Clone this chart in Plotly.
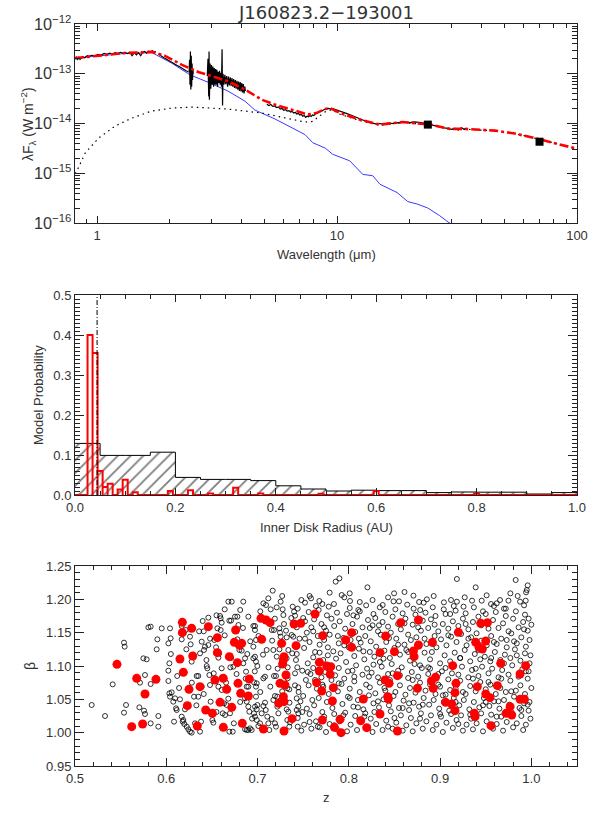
import plotly.graph_objects as go

TITLE = "J160823.2\u2212193001"

# ---------------- Panel 1: SED ----------------
star_wl = [0.81, 1.0, 1.15, 1.3, 1.5, 1.69, 2.05, 2.44, 2.96, 3.51, 4.14, 4.55, 5.52, 6.5, 7.35, 7.93, 8.93,
           9.6, 11.3, 12.8, 14.1, 15.1, 17.8, 19.7, 21.6, 23.9, 26.8, 29.0, 30.0]
star_f = [2.06e-13, 2.3e-13, 2.45e-13, 2.55e-13, 2.6e-13, 2.67e-13, 1.63e-13, 9.5e-14, 6.5e-14, 4.5e-14, 2.8e-14,
          1.86e-14, 1.23e-14, 8.3e-15, 6.0e-15, 4.1e-15, 3.2e-15, 2.4e-15, 1.78e-15, 9.5e-16, 8.9e-16, 6.0e-16,
          4.1e-16, 2.7e-16, 2.4e-16, 2.0e-16, 1.4e-16, 1.05e-16, 0.95e-16]

model_wl = [0.81, 1.0, 1.3, 1.7, 1.92, 2.26, 2.66, 3.0, 3.51, 4.14, 4.87, 5.5, 6.7, 7.57, 8.2, 8.9, 9.35, 10.3,
            12.4, 15.1, 18.8, 24.5, 29.5, 34.0, 45.5, 55.0, 66.5, 81.0, 100.0]
model_f = [2.06e-13, 2.3e-13, 2.6e-13, 2.75e-13, 2.29e-13, 1.51e-13, 1.07e-13, 9.0e-14, 7.1e-14, 4.8e-14, 3.0e-14,
           2.4e-14, 1.78e-14, 1.51e-14, 1.62e-14, 1.95e-14, 2.04e-14, 1.62e-14, 1.2e-14, 9.5e-15, 1.07e-14,
           9.5e-15, 7.8e-15, 7.8e-15, 7.2e-15, 6.3e-15, 5.1e-15, 4.0e-15, 3.1e-15]

disk_wl = [0.81, 0.825, 0.894, 1.016, 1.19, 1.4, 1.69, 2.05, 2.5, 3.51, 4.87, 6.07, 7.35, 7.9, 8.3, 8.9, 9.5,
           10.3, 12.4, 15.1, 18.8, 24.5, 29.5, 34.0, 45.5, 55.0, 66.5, 81.0, 100.0]
disk_f = [0.98e-15, 1.12e-15, 2.57e-15, 5.1e-15, 8.9e-15, 1.29e-14, 1.78e-14, 2.04e-14, 2.14e-14, 1.95e-14,
          1.62e-14, 1.29e-14, 1.07e-14, 1.1e-14, 1.3e-14, 1.7e-14, 1.9e-14, 1.53e-14, 1.15e-14, 9.2e-15,
          1.05e-14, 9.3e-15, 7.7e-15, 7.7e-15, 7.1e-15, 6.3e-15, 5.1e-15, 4.0e-15, 3.1e-15]

nir_wl = [0.81, 0.82, 0.83, 0.84, 0.85, 0.86, 0.87, 0.89, 0.91, 0.93, 0.95, 0.98, 1.01, 1.04, 1.07, 1.10, 1.13,
          1.16, 1.19, 1.22, 1.25, 1.28, 1.31, 1.34, 1.37, 1.40, 1.43, 1.46, 1.49, 1.52, 1.55, 1.58, 1.61, 1.64,
          1.67, 1.70, 1.73, 1.76]
nir_f = [2.0e-13, 2.15e-13, 1.9e-13, 2.2e-13, 1.95e-13, 2.1e-13, 2.2e-13, 2.1e-13, 2.3e-13, 2.25e-13, 2.35e-13,
         2.3e-13, 2.45e-13, 2.35e-13, 2.55e-13, 2.45e-13, 2.6e-13, 2.5e-13, 2.65e-13, 2.55e-13, 2.7e-13, 2.6e-13,
         2.7e-13, 2.55e-13, 2.7e-13, 2.3e-13, 2.65e-13, 2.4e-13, 2.65e-13, 2.3e-13, 2.7e-13, 2.8e-13, 2.6e-13,
         2.85e-13, 2.75e-13, 2.9e-13, 2.75e-13, 2.8e-13]

k_wl = [1.80, 1.85, 1.90, 1.95, 2.0, 2.05, 2.1, 2.15, 2.2, 2.25, 2.3, 2.35, 2.40]
k_f = [2.5e-13, 2.25e-13, 2.1e-13, 1.95e-13, 1.8e-13, 1.7e-13, 1.6e-13, 1.48e-13, 1.4e-13, 1.3e-13, 1.22e-13,
       1.15e-13, 1.1e-13]

spike_wl = [2.42, 2.43, 2.44, 2.45, 2.46, 2.47, 2.48, 2.49, 2.50, 2.51, 2.52]
spike_f = [1.05e-13, 1.9e-13, 0.6e-13, 2.8e-13, 0.48e-13, 2.3e-13, 0.55e-13, 1.6e-13, 0.75e-13, 1.2e-13, 1.0e-13]

l_wl = [2.88, 2.90, 2.92, 2.93, 2.94, 2.96, 2.98, 3.00, 3.02, 3.04, 3.06, 3.08, 3.10, 3.12, 3.14, 3.16, 3.18,
        3.20, 3.22, 3.24, 3.26, 3.28, 3.30, 3.32, 3.335, 3.35, 3.38, 3.41, 3.44, 3.47, 3.50, 3.53, 3.56, 3.59,
        3.62, 3.65, 3.68, 3.71, 3.74, 3.77, 3.80, 3.83, 3.86, 3.89, 3.92, 3.95, 3.98, 4.01, 4.04, 4.07, 4.10,
        4.13, 4.15]
l_f = [0.9e-13, 2.0e-13, 0.35e-13, 2.8e-13, 0.3e-13, 1.6e-13, 0.5e-13, 1.5e-13, 0.6e-13, 1.4e-13, 0.55e-13,
       1.3e-13, 0.6e-13, 1.25e-13, 0.6e-13, 1.2e-13, 0.55e-13, 1.1e-13, 0.65e-13, 1.15e-13, 0.6e-13, 1.05e-13,
       0.55e-13, 3.1e-13, 0.23e-13, 1.0e-13, 0.6e-13, 0.95e-13, 0.62e-13, 0.9e-13, 0.55e-13, 0.88e-13, 0.58e-13,
       0.85e-13, 0.57e-13, 0.82e-13, 0.55e-13, 0.78e-13, 0.52e-13, 0.75e-13, 0.5e-13, 0.72e-13, 0.48e-13,
       0.7e-13, 0.45e-13, 0.68e-13, 0.44e-13, 0.65e-13, 0.42e-13, 0.62e-13, 0.4e-13, 0.55e-13, 0.45e-13]

irs_wl = [5.1, 5.2, 5.3, 5.4, 5.5, 5.6, 5.7, 5.8, 5.9, 6.0, 6.1, 6.2, 6.3, 6.4, 6.5, 6.6, 6.7, 6.8, 6.9, 7.0,
          7.1, 7.2, 7.3, 7.4, 7.5, 7.6, 7.7, 7.8, 7.9, 8.0, 8.2, 8.4, 8.6, 8.8, 9.0, 9.2, 9.4, 9.6, 9.8, 10.0,
          10.3, 10.6, 11.0, 11.4, 11.8, 12.2, 12.6, 13.0, 13.5, 14.0, 14.5, 15.0, 15.5, 16.0, 16.5, 17.0, 17.5,
          18.0, 19.0, 20.0, 21.0, 22.0, 23.0, 24.0, 25.0, 26.0, 27.0, 28.0, 29.0, 30.0, 31.0, 32.0, 33.0, 34.0, 34.5]
irs_f = [2.45e-14, 2.3e-14, 2.4e-14, 2.2e-14, 2.25e-14, 2.1e-14, 2.15e-14, 1.95e-14, 2.0e-14, 1.85e-14, 1.9e-14,
         1.78e-14, 1.82e-14, 1.7e-14, 1.75e-14, 1.62e-14, 1.68e-14, 1.55e-14, 1.6e-14, 1.48e-14, 1.52e-14,
         1.4e-14, 1.45e-14, 1.33e-14, 1.4e-14, 1.36e-14, 1.44e-14, 1.38e-14, 1.48e-14, 1.45e-14, 1.6e-14,
         1.7e-14, 1.82e-14, 1.9e-14, 1.98e-14, 2.02e-14, 1.96e-14, 2.0e-14, 1.92e-14, 1.88e-14, 1.78e-14,
         1.7e-14, 1.58e-14, 1.48e-14, 1.38e-14, 1.28e-14, 1.2e-14, 1.12e-14, 1.06e-14, 1.02e-14, 0.98e-14,
         1.0e-14, 0.97e-14, 1.0e-14, 1.02e-14, 1.0e-14, 1.04e-14, 1.03e-14, 1.06e-14, 1.04e-14, 1.08e-14,
         1.06e-14, 1.0e-14, 0.98e-14, 0.93e-14, 0.88e-14, 0.85e-14, 0.82e-14, 0.8e-14, 0.76e-14, 0.8e-14,
         0.74e-14, 0.82e-14, 0.76e-14, 0.8e-14]

phot_wl = [23.9, 69.8]
phot_f = [9.5e-15, 4.3e-15]

# ---------------- Panel 2: inner radius histograms ----------------
grid_bin_lo = [0.00, 0.05, 0.10, 0.15, 0.20, 0.25, 0.30, 0.35, 0.40, 0.45, 0.50, 0.55, 0.60, 0.65, 0.70, 0.75,
               0.80, 0.85, 0.90, 0.95]
grid_prob = [0.129, 0.099, 0.099, 0.107, 0.044, 0.039, 0.039, 0.036, 0.023, 0.015, 0.010, 0.012, 0.011, 0.011,
             0.006, 0.0075, 0.007, 0.007, 0.0025, 0.006]
GRID_W = 0.05

fit_bin_lo = [0.025, 0.035, 0.045, 0.055, 0.065, 0.085, 0.095, 0.115, 0.185, 0.225, 0.265, 0.315, 0.365, 0.485,
              0.595, 0.795]
fit_prob = [0.400, 0.355, 0.060, 0.020, 0.028, 0.014, 0.038, 0.007, 0.010, 0.012, 0.004, 0.018, 0.004, 0.003,
            0.010, 0.003]
FIT_W = 0.01
best_rin = 0.044

# ---------------- Panel 3: z vs beta ----------------
models_left = [
    (0.5183, 1.0415), (0.5329, 1.025), (0.5413, 1.0725), (0.5537, 1.135), (0.5544, 1.129), (0.5559, 1.0415),
    (0.5537, 1.030), (0.5705, 1.038), (0.5749, 1.1115), (0.5785, 1.110), (0.5767, 1.0865), (0.5756, 1.033),
    (0.5767, 1.028), (0.5712, 1.075), (0.5829, 1.014), (0.5804, 1.158), (0.5829, 1.159), (0.5829, 1.073),
    (0.5902, 1.140), (0.5895, 1.125), (0.5913, 1.025), (0.5913, 1.009), (0.5950, 1.1565), (0.6041, 1.1565),
    (0.6048, 1.1415), (0.6023, 1.134), (0.6034, 1.104), (0.6023, 1.093), (0.6023, 1.0775), (0.6034, 1.059),
    (0.6041, 1.054), (0.6059, 1.0605), (0.6077, 1.0465), (0.6096, 1.0515), (0.6107, 1.0365), (0.6114, 1.034),
    (0.6085, 1.0165), (0.6169, 1.160), (0.6169, 1.140), (0.6150, 1.050), (0.6169, 1.024), (0.6180, 1.0165),
    (0.6187, 1.019), (0.6198, 1.013), (0.6205, 1.035), (0.6213, 1.154), (0.6224, 1.009), (0.6242, 1.005),
    (0.6260, 1.0015), (0.6278, 1.000), (0.6267, 1.1325), (0.6278, 1.1065), (0.6304, 1.054), (0.6315, 1.014),
    (0.6333, 1.085), (0.6351, 1.085), (0.6351, 1.054), (0.6370, 1.0015), (0.6381, 1.0165), (0.6388, 1.1365),
    (0.6370, 1.119), (0.6388, 1.069), (0.6399, 1.1675), (0.6413, 1.124), (0.6424, 1.129), (0.6443, 1.100),
    (0.6450, 1.0965), (0.6461, 1.1725), (0.6461, 1.1315), (0.6472, 1.0865), (0.6479, 1.0715), (0.6486, 1.0465),
    (0.6505, 1.019), (0.6516, 1.015), (0.6527, 1.139), (0.6545, 1.128), (0.6560, 1.1565), (0.6571, 1.069),
    (0.6571, 1.1125), (0.6589, 1.175), (0.6596, 1.1715), (0.6607, 1.165), (0.6596, 1.154), (0.6607, 1.0965),
    (0.6607, 1.064), (0.6618, 1.029), (0.6633, 1.044), (0.6644, 1.0265), (0.6655, 1.075), (0.6662, 1.0415),
    (0.6680, 1.1965), (0.6717, 1.1965), (0.6691, 1.168), (0.6709, 1.168), (0.6698, 1.029), (0.6691, 1.0015),
    (0.6728, 1.0015), (0.6702, 1.098), (0.6735, 1.099), (0.6753, 1.174), (0.6779, 1.174), (0.6790, 1.1615),
    (0.6779, 1.140), (0.6801, 1.124), (0.6826, 1.123), (0.6844, 1.1965), (0.6808, 1.129), (0.6844, 1.104),
    (0.6863, 1.1115), (0.6888, 1.118), (0.6874, 1.0915), (0.6881, 1.069), (0.6899, 1.069), (0.6863, 1.0515),
    (0.6881, 1.0465), (0.6899, 1.039), (0.6910, 1.0315), (0.6863, 1.005), (0.6881, 1.004), (0.6899, 1.004),
    (0.6917, 1.0065), (0.6936, 1.004), (0.6899, 1.174), (0.6954, 1.160), (0.6972, 1.160), (0.6972, 1.154),
    (0.6983, 1.139), (0.6954, 1.129), (0.6972, 1.114), (0.6954, 1.1115), (0.6983, 1.1065), (0.6998, 1.100),
    (0.6961, 1.0755), (0.6983, 1.069), (0.6991, 1.074), (0.6983, 1.054), (0.6998, 1.0415), (0.6972, 1.039),
    (0.6991, 1.035), (0.6961, 1.029), (0.6972, 1.024), (0.6991, 1.019), (0.7009, 1.010), (0.7027, 1.014),
    (0.7045, 1.029), (0.7064, 1.040), (0.7082, 1.045), (0.7064, 1.0815), (0.7082, 1.084), (0.7064, 1.194),
    (0.7093, 1.1915), (0.7118, 1.2015), (0.7166, 1.213), (0.7144, 1.185), (0.7173, 1.124), (0.7155, 1.154),
    (0.7180, 1.154), (0.7100, 1.124), (0.7107, 1.024), (0.7118, 1.014), (0.7129, 1.004), (0.7155, 1.0205),
    (0.7173, 1.049), (0.7191, 1.055), (0.7180, 1.085), (0.7202, 1.085), (0.7210, 1.114), (0.7191, 1.014),
    (0.7202, 1.009), (0.7217, 1.054), (0.7228, 1.029), (0.7217, 1.039), (0.7239, 1.1565), (0.7246, 1.150),
    (0.7253, 1.144), (0.7253, 1.1965), (0.7210, 1.188), (0.7275, 1.185), (0.7283, 1.1765), (0.7312, 1.153),
    (0.7319, 1.143), (0.7337, 1.124), (0.7319, 1.1115), (0.7330, 1.0815), (0.7326, 1.0665), (0.7348, 1.065),
    (0.7319, 1.035), (0.7337, 1.0315), (0.7326, 1.019), (0.7356, 1.0155), (0.7348, 1.009), (0.7374, 1.1465),
    (0.7392, 1.144), (0.7385, 1.189), (0.7400, 1.1815), (0.7411, 1.1755), (0.7411, 1.089), (0.7421, 1.109),
    (0.7436, 1.098), (0.7429, 1.034), (0.7447, 1.029), (0.7440, 1.009), (0.7447, 1.039), (0.7429, 1.0515),
    (0.7447, 1.068),
    (0.605, 1.118), (0.612, 1.085), (0.614, 1.067), (0.622, 1.125), (0.628, 1.075), (0.633, 1.041),
    (0.636, 1.152), (0.641, 1.058), (0.644, 1.109), (0.648, 1.141), (0.652, 1.089), (0.655, 1.031),
    (0.658, 1.119), (0.661, 1.083), (0.664, 1.146), (0.668, 1.051), (0.671, 1.112), (0.674, 1.014),
    (0.677, 1.088), (0.681, 1.046), (0.684, 1.157), (0.687, 1.081), (0.692, 1.137), (0.694, 1.021),
    (0.697, 1.092), (0.701, 1.145), (0.703, 1.061), (0.706, 1.117), (0.709, 1.034), (0.712, 1.098),
    (0.714, 1.069), (0.716, 1.138), (0.719, 1.171), (0.722, 1.096), (0.724, 1.125), (0.727, 1.062),
    (0.729, 1.163), (0.733, 1.098), (0.735, 1.045), (0.738, 1.119), (0.741, 1.071), (0.743, 1.158),
    (0.737, 1.172), (0.727, 1.205), (0.703, 1.182), (0.681, 1.184), (0.664, 1.185), (0.655, 1.176),
    (0.641, 1.152), (0.626, 1.144),
]

models_top = [
    (0.7856, 1.2265), (0.7897, 1.2315), (0.8204, 1.218), (0.9184, 1.2305), (0.9390, 1.218), (0.9828, 1.229),
    (0.9942, 1.2105), (0.7922, 1.2065), (0.7586, 1.2015), (0.7677, 1.1975), (0.7520, 1.195), (0.8013, 1.1975),
    (0.8104, 1.184), (0.7837, 1.193), (0.8708, 1.2055), (0.8496, 1.209), (0.8371, 1.1915), (0.8855, 1.200),
    (0.8782, 1.184), (0.9042, 1.1955), (0.9184, 1.1965), (0.9257, 1.189), (0.9456, 1.198), (0.9558, 1.193),
    (0.9657, 1.199), (0.9749, 1.198), (0.9876, 1.1965), (0.9938, 1.198),
    (0.748, 1.199), (0.757, 1.205), (0.771, 1.193), (0.779, 1.210), (0.801, 1.209), (0.812, 1.196),
    (0.826, 1.199), (0.843, 1.203), (0.855, 1.197), (0.861, 1.211), (0.877, 1.196), (0.893, 1.205),
    (0.912, 1.199), (0.927, 1.203), (0.935, 1.198), (0.951, 1.206), (0.962, 1.194), (0.977, 1.209),
    (0.996, 1.221), (0.972, 1.186),
]

models_dense = [
    (0.748, 1.003), (0.744, 1.022), (0.747, 1.047), (0.745, 1.061), (0.749, 1.093), (0.743, 1.118), (0.746, 1.141),
    (0.750, 1.172), (0.744, 1.186), (0.751, 1.012), (0.754, 1.036), (0.750, 1.055), (0.753, 1.079), (0.755, 1.104),
    (0.751, 1.127), (0.754, 1.150), (0.752, 1.167), (0.759, 1.006), (0.757, 1.028), (0.760, 1.049), (0.756, 1.071),
    (0.758, 1.088), (0.761, 1.113), (0.757, 1.136), (0.759, 1.158), (0.756, 1.181), (0.764, 1.017), (0.762, 1.041),
    (0.765, 1.066), (0.761, 1.097), (0.763, 1.121), (0.766, 1.145), (0.762, 1.170), (0.764, 1.190), (0.768, 1.008),
    (0.771, 1.031), (0.767, 1.052), (0.770, 1.083), (0.772, 1.109), (0.768, 1.132), (0.770, 1.163), (0.767, 1.184),
    (0.775, 1.001), (0.773, 1.024), (0.776, 1.046), (0.772, 1.069), (0.774, 1.091), (0.777, 1.116), (0.773, 1.139),
    (0.775, 1.153), (0.776, 1.176), (0.779, 1.013), (0.782, 1.037), (0.778, 1.058), (0.781, 1.079), (0.783, 1.122),
    (0.779, 1.147), (0.781, 1.171), (0.778, 1.189), (0.787, 1.005), (0.784, 1.028), (0.788, 1.062), (0.785, 1.086),
    (0.786, 1.111), (0.789, 1.134), (0.784, 1.160), (0.787, 1.180), (0.790, 1.017), (0.793, 1.043), (0.792, 1.073),
    (0.789, 1.097), (0.791, 1.119), (0.794, 1.142), (0.790, 1.167), (0.798, 1.002), (0.796, 1.030), (0.799, 1.054),
    (0.795, 1.081), (0.797, 1.106), (0.800, 1.128), (0.796, 1.156), (0.798, 1.178), (0.795, 1.203), (0.802, 1.012),
    (0.805, 1.039), (0.801, 1.066), (0.804, 1.093), (0.806, 1.115), (0.802, 1.139), (0.804, 1.163), (0.801, 1.187),
    (0.809, 1.004), (0.807, 1.025), (0.810, 1.049), (0.806, 1.077), (0.808, 1.101), (0.811, 1.126), (0.807, 1.151),
    (0.809, 1.174), (0.813, 1.016), (0.816, 1.035), (0.812, 1.061), (0.815, 1.087), (0.817, 1.110), (0.813, 1.135),
    (0.815, 1.158), (0.812, 1.182), (0.821, 1.008), (0.818, 1.029), (0.822, 1.056), (0.819, 1.072), (0.820, 1.096),
    (0.823, 1.121), (0.818, 1.145), (0.821, 1.169), (0.819, 1.191), (0.826, 1.001), (0.824, 1.021), (0.827, 1.044),
    (0.823, 1.068), (0.825, 1.090), (0.828, 1.114), (0.824, 1.137), (0.826, 1.161), (0.827, 1.178), (0.830, 1.013),
    (0.833, 1.038), (0.829, 1.059), (0.832, 1.083), (0.834, 1.106), (0.830, 1.129), (0.832, 1.152), (0.829, 1.172),
    (0.837, 1.004), (0.835, 1.027), (0.838, 1.050), (0.834, 1.075), (0.836, 1.099), (0.839, 1.123), (0.835, 1.147),
    (0.837, 1.166), (0.834, 1.188), (0.841, 1.018), (0.844, 1.041), (0.840, 1.063), (0.843, 1.088), (0.845, 1.112),
    (0.841, 1.136), (0.843, 1.159), (0.840, 1.181), (0.848, 1.006), (0.846, 1.032), (0.849, 1.055), (0.845, 1.079),
    (0.847, 1.103), (0.850, 1.127), (0.846, 1.150), (0.848, 1.174), (0.849, 1.197), (0.852, 1.015), (0.855, 1.037),
    (0.851, 1.061), (0.854, 1.093), (0.856, 1.117), (0.852, 1.141), (0.854, 1.163), (0.851, 1.185), (0.859, 1.003),
    (0.857, 1.026), (0.860, 1.048), (0.856, 1.071), (0.858, 1.098), (0.861, 1.132), (0.857, 1.155), (0.859, 1.179),
    (0.863, 1.011), (0.866, 1.034), (0.862, 1.057), (0.865, 1.082), (0.867, 1.108), (0.863, 1.124), (0.865, 1.147),
    (0.862, 1.171), (0.864, 1.192), (0.870, 1.002), (0.868, 1.022), (0.871, 1.045), (0.867, 1.067), (0.869, 1.091),
    (0.872, 1.115), (0.868, 1.139), (0.870, 1.162), (0.871, 1.186), (0.874, 1.014), (0.877, 1.039), (0.873, 1.060),
    (0.876, 1.084), (0.878, 1.101), (0.874, 1.143), (0.876, 1.158), (0.873, 1.177), (0.881, 1.006), (0.879, 1.029),
    (0.882, 1.052), (0.878, 1.075), (0.880, 1.097), (0.883, 1.120), (0.879, 1.153), (0.881, 1.168), (0.882, 1.195),
    (0.885, 1.017), (0.888, 1.042), (0.884, 1.063), (0.887, 1.088), (0.889, 1.110), (0.885, 1.133), (0.887, 1.157),
    (0.884, 1.180), (0.892, 1.004), (0.890, 1.026), (0.893, 1.049), (0.889, 1.096), (0.891, 1.121), (0.894, 1.145),
    (0.890, 1.170), (0.892, 1.188), (0.896, 1.012), (0.899, 1.036), (0.895, 1.058), (0.898, 1.072), (0.900, 1.104),
    (0.896, 1.128), (0.898, 1.152), (0.895, 1.175), (0.903, 1.001), (0.901, 1.024), (0.904, 1.046), (0.900, 1.069),
    (0.902, 1.092), (0.905, 1.116), (0.901, 1.140), (0.903, 1.163), (0.904, 1.185), (0.907, 1.015), (0.910, 1.033),
    (0.906, 1.057), (0.909, 1.080), (0.911, 1.107), (0.907, 1.131), (0.909, 1.156), (0.906, 1.178), (0.914, 1.007),
    (0.912, 1.028), (0.915, 1.052), (0.911, 1.064), (0.913, 1.089), (0.916, 1.120), (0.912, 1.144), (0.914, 1.167),
    (0.915, 1.190), (0.918, 1.019), (0.921, 1.041), (0.917, 1.066), (0.920, 1.087), (0.922, 1.112), (0.918, 1.136),
    (0.920, 1.160), (0.917, 1.183), (0.925, 1.003), (0.923, 1.026), (0.926, 1.049), (0.922, 1.078), (0.924, 1.099),
    (0.927, 1.124), (0.923, 1.148), (0.925, 1.171), (0.929, 1.012), (0.932, 1.035), (0.928, 1.058), (0.931, 1.083),
    (0.933, 1.107), (0.929, 1.131), (0.931, 1.155), (0.928, 1.179), (0.936, 1.005), (0.934, 1.021), (0.937, 1.046),
    (0.933, 1.070), (0.935, 1.094), (0.938, 1.118), (0.934, 1.143), (0.936, 1.166), (0.937, 1.188), (0.940, 1.014),
    (0.943, 1.038), (0.939, 1.062), (0.942, 1.085), (0.944, 1.110), (0.940, 1.149), (0.942, 1.174), (0.947, 1.002),
    (0.945, 1.029), (0.948, 1.052), (0.944, 1.076), (0.946, 1.099), (0.949, 1.114), (0.945, 1.138), (0.947, 1.182),
    (0.951, 1.017), (0.954, 1.040), (0.950, 1.065), (0.953, 1.089), (0.955, 1.107), (0.951, 1.131), (0.953, 1.156),
    (0.950, 1.178), (0.958, 1.006), (0.956, 1.027), (0.959, 1.047), (0.955, 1.072), (0.957, 1.096), (0.960, 1.121),
    (0.956, 1.145), (0.958, 1.169), (0.959, 1.190), (0.962, 1.013), (0.965, 1.036), (0.961, 1.058), (0.964, 1.083),
    (0.966, 1.109), (0.962, 1.133), (0.964, 1.157), (0.961, 1.181), (0.969, 1.003), (0.967, 1.024), (0.970, 1.049),
    (0.966, 1.067), (0.968, 1.094), (0.971, 1.117), (0.967, 1.141), (0.969, 1.164), (0.970, 1.186), (0.973, 1.016),
    (0.976, 1.042), (0.972, 1.061), (0.975, 1.087), (0.977, 1.112), (0.973, 1.128), (0.975, 1.152), (0.972, 1.175),
    (0.980, 1.008), (0.978, 1.031), (0.981, 1.054), (0.977, 1.078), (0.979, 1.101), (0.982, 1.125), (0.978, 1.149),
    (0.980, 1.171), (0.984, 1.014), (0.987, 1.037), (0.983, 1.063), (0.986, 1.084), (0.988, 1.108), (0.984, 1.134),
    (0.986, 1.158), (0.983, 1.182), (0.985, 1.205), (0.991, 1.004), (0.989, 1.025), (0.992, 1.044), (0.988, 1.071),
    (0.990, 1.095), (0.993, 1.119), (0.989, 1.143), (0.991, 1.166), (0.992, 1.191), (0.994, 1.012), (0.997, 1.033),
    (0.993, 1.058), (0.996, 1.081), (0.998, 1.104), (0.994, 1.129), (0.996, 1.153), (0.993, 1.177), (0.995, 1.214),
    (0.999, 1.021), (0.998, 1.046), (1.000, 1.067), (0.997, 1.092), (0.999, 1.116), (0.998, 1.139), (1.000, 1.162),
    (0.749, 1.031), (0.755, 1.091), (0.761, 1.152), (0.766, 1.009), (0.771, 1.072), (0.777, 1.128), (0.783, 1.048),
    (0.788, 1.145), (0.794, 1.026), (0.799, 1.092), (0.805, 1.176), (0.810, 1.038), (0.816, 1.122), (0.822, 1.084),
    (0.828, 1.031), (0.833, 1.161), (0.839, 1.067), (0.844, 1.142), (0.850, 1.022), (0.856, 1.086), (0.861, 1.164),
    (0.866, 1.044), (0.872, 1.103), (0.878, 1.021), (0.883, 1.141), (0.889, 1.072), (0.894, 1.162), (0.900, 1.028),
    (0.906, 1.097), (0.911, 1.178), (0.917, 1.046), (0.922, 1.112), (0.928, 1.163), (0.933, 1.027), (0.939, 1.096),
    (0.945, 1.161), (0.950, 1.046), (0.956, 1.112), (0.962, 1.024), (0.967, 1.081), (0.973, 1.139), (0.978, 1.062),
    (0.984, 1.116), (0.989, 1.034), (0.994, 1.092), (0.997, 1.171),
    (0.752, 1.141), (0.757, 1.016), (0.763, 1.079), (0.768, 1.120), (0.773, 1.158), (0.779, 1.093), (0.784, 1.011),
    (0.789, 1.074), (0.795, 1.131), (0.801, 1.052), (0.806, 1.084), (0.811, 1.141), (0.817, 1.024), (0.823, 1.157),
    (0.827, 1.102), (0.832, 1.047), (0.838, 1.111), (0.843, 1.009), (0.848, 1.089), (0.854, 1.132), (0.859, 1.037),
    (0.865, 1.121), (0.870, 1.079), (0.876, 1.129), (0.881, 1.042), (0.887, 1.098), (0.892, 1.133), (0.898, 1.088),
    (0.903, 1.056), (0.909, 1.146), (0.914, 1.101), (0.920, 1.013), (0.925, 1.061), (0.931, 1.141), (0.936, 1.081),
    (0.942, 1.124), (0.947, 1.041), (0.953, 1.076), (0.959, 1.136), (0.964, 1.047), (0.970, 1.104), (0.976, 1.028),
    (0.981, 1.137), (0.987, 1.052), (0.992, 1.155), (0.996, 1.042),
]

best_models = [
    (0.5460, 1.1025), (0.5676, 1.0815), (0.5621, 1.009), (0.5741, 1.013), (0.5767, 1.058), (0.5887, 1.080),
    (0.6176, 1.1655), (0.6176, 1.150), (0.6278, 1.1565), (0.6150, 1.1105), (0.6187, 1.0905), (0.6290, 1.115),
    (0.6249, 1.065), (0.6231, 1.0405), (0.6340, 1.010), (0.6370, 1.069), (0.6432, 1.034), (0.6461, 1.159),
    (0.6505, 1.029), (0.6534, 1.079), (0.6560, 1.1425), (0.6560, 1.120), (0.6589, 1.0455), (0.6625, 1.008),
    (0.6625, 1.0815), (0.6662, 1.065), (0.6691, 1.114), (0.6717, 1.038), (0.6760, 1.154), (0.6746, 1.1355),
    (0.6779, 1.105), (0.6786, 1.074), (0.6815, 1.059), (0.6833, 1.014), (0.6800, 1.1315), (0.6826, 1.134),
    (0.6910, 1.0805), (0.6899, 1.055), (0.7045, 1.140), (0.7064, 1.0055), (0.7038, 1.1715), (0.7093, 1.169),
    (0.7137, 1.165), (0.7264, 1.134), (0.7290, 1.114), (0.7283, 1.109), (0.7275, 1.103), (0.7312, 1.0865),
    (0.7246, 1.074), (0.7300, 1.0715), (0.7283, 1.054), (0.7232, 1.044), (0.7290, 1.0465), (0.7290, 1.0025),
    (0.7378, 1.021), (0.7400, 1.163), (0.7422, 1.1305), (0.7473, 1.164), (0.7630, 1.178), (0.7714, 1.1455),
    (0.7677, 1.1055), (0.7677, 1.0925), (0.7758, 1.100), (0.7802, 1.099), (0.7795, 1.0875), (0.7648, 1.075),
    (0.7703, 1.0625), (0.7831, 1.0675), (0.7820, 1.0475), (0.7710, 1.019), (0.7842, 1.008), (0.7904, 1.020),
    (0.7915, 1.000), (0.7966, 1.139), (0.8031, 1.150), (0.8031, 1.128), (0.8130, 1.018), (0.8196, 1.0075),
    (0.8159, 1.0505), (0.8342, 1.120), (0.8342, 1.028), (0.8404, 1.145), (0.8397, 1.079), (0.8441, 1.074),
    (0.8426, 1.054), (0.8434, 1.0505), (0.8500, 1.1215), (0.8533, 1.0855), (0.8533, 1.0025), (0.8569, 1.165),
    (0.8708, 1.1225), (0.8715, 1.114), (0.8763, 1.1315), (0.8763, 1.169), (0.8752, 1.0665), (0.8916, 1.1355),
    (0.8905, 1.0775), (0.8950, 1.083), (0.8924, 1.0665), (0.9061, 1.0455), (0.9127, 1.043), (0.9163, 1.033),
    (0.9138, 1.1005), (0.9174, 1.074), (0.9163, 1.060), (0.9200, 1.1505), (0.9375, 1.029), (0.9383, 1.024),
    (0.9390, 1.1355), (0.9408, 1.069), (0.9427, 1.128), (0.9445, 1.164), (0.9463, 1.1255), (0.9518, 1.165),
    (0.9500, 1.1375), (0.9500, 1.058), (0.9547, 1.0525), (0.9558, 1.0105), (0.9628, 1.0705), (0.9664, 1.104),
    (0.9723, 1.029), (0.9767, 1.039), (0.9785, 1.0265), (0.9876, 1.050), (0.9924, 1.050), (0.9876, 1.088),
    (0.9938, 1.1005),
]

# ---------------- figure ----------------
W, H = 599, 814
FONT = "Liberation Sans, Arial, Helvetica, sans-serif"
TXT = "#333333"
AX = "#222222"

fig = go.Figure()

# panel 1 traces
fig.add_trace(go.Scatter(x=star_wl, y=star_f, mode="lines", line=dict(color="#3a3aff", width=1),
                         xaxis="x", yaxis="y"))
fig.add_trace(go.Scatter(x=disk_wl, y=disk_f, mode="lines", line=dict(color="black", width=1.2, dash="1.5px,4px"),
                         xaxis="x", yaxis="y"))
for wl, f in [(nir_wl, nir_f), (k_wl, k_f), (spike_wl, spike_f), (l_wl, l_f), (irs_wl, irs_f)]:
    fig.add_trace(go.Scatter(x=wl, y=f, mode="lines", line=dict(color="black", width=1.2),
                             xaxis="x", yaxis="y"))
fig.add_trace(go.Scatter(x=model_wl, y=model_f, mode="lines", line=dict(color="#ff0000", width=2.6, dash="dashdot"),
                         xaxis="x", yaxis="y"))
fig.add_trace(go.Scatter(x=phot_wl, y=phot_f, mode="markers", marker=dict(symbol="square", size=8, color="black"),
                         xaxis="x", yaxis="y"))

# panel 2 traces: hatched grid histogram (stepped)
gx = list(grid_bin_lo) + [grid_bin_lo[-1] + GRID_W]
gy = list(grid_prob) + [grid_prob[-1]]
fig.add_trace(go.Scatter(x=gx, y=gy, mode="lines", line=dict(color="black", width=1, shape="hv"),
                         fill="tozeroy", fillcolor="white",
                         fillpattern=dict(shape="/", fgcolor="black", bgcolor="white", size=9, solidity=0.2),
                         xaxis="x2", yaxis="y2"))
rx, ry = [0.0], [0.0]
for lo, p in zip(fit_bin_lo, fit_prob):
    rx += [lo, lo, lo + FIT_W, lo + FIT_W]
    ry += [0.0, p, p, 0.0]
rx.append(1.0)
ry.append(0.0)
fig.add_trace(go.Scatter(x=rx, y=ry, mode="lines", line=dict(color="#ff0000", width=2),
                         xaxis="x2", yaxis="y2"))
fig.add_trace(go.Scatter(x=[best_rin, best_rin], y=[0, 0.5], mode="lines",
                         line=dict(color="black", width=1, dash="5px,2px,1px,2px"), xaxis="x2", yaxis="y2"))

# panel 3 traces
all_models = models_left + models_top + models_dense
fig.add_trace(go.Scatter(x=[p[0] for p in all_models], y=[p[1] for p in all_models], mode="markers",
                         marker=dict(symbol="circle-open", size=5, color="black", line=dict(width=0.8)),
                         xaxis="x3", yaxis="y3"))
fig.add_trace(go.Scatter(x=[p[0] for p in best_models], y=[p[1] for p in best_models], mode="markers",
                         marker=dict(symbol="circle", size=9, color="#ff0000"),
                         xaxis="x3", yaxis="y3"))

XL, XR = 75 / W, 577 / W


def ydom(top, bot):
    return [1 - bot / H, 1 - top / H]


tickfont = dict(family=FONT, size=13, color=TXT)
common = dict(showline=True, linecolor=AX, linewidth=1, mirror="ticks", ticks="inside", tickcolor=AX,
              showgrid=False, zeroline=False, tickfont=tickfont, automargin=False)

fig.update_layout(
    width=W, height=H, margin=dict(l=0, r=0, t=0, b=0, autoexpand=False), paper_bgcolor="white",
    plot_bgcolor="white", showlegend=False, font=dict(family=FONT, color=TXT),
    xaxis=dict(domain=[XL, XR], anchor="y", type="log", range=[-0.0917, 2.0], dtick=1, ticklen=7,
               minor=dict(ticks="inside", ticklen=4, dtick="D1", tickcolor=AX), **common),
    yaxis=dict(domain=ydom(24, 223), anchor="x", type="log", range=[-16, -12], dtick=1, ticklen=10,
               exponentformat="power", showexponent="all",
               minor=dict(ticks="inside", ticklen=5, dtick="D1", tickcolor=AX), **common),
    xaxis2=dict(domain=[XL, XR], anchor="y2", range=[0, 1], dtick=0.2, tick0=0, tickformat=".1f", ticklen=7,
                minor=dict(ticks="inside", ticklen=4, dtick=0.05, tickcolor=AX), **common),
    yaxis2=dict(domain=ydom(295, 495), anchor="x2", range=[0, 0.5], dtick=0.1, tick0=0, tickformat=".1f",
                ticklen=9, minor=dict(ticks="inside", ticklen=5, dtick=0.01, tickcolor=AX), **common),
    xaxis3=dict(domain=[XL, XR], anchor="y3", range=[0.5, 1.05], dtick=0.1, tick0=0.5, tickformat=".1f",
                ticklen=8, minor=dict(ticks="inside", ticklen=4, dtick=0.02, tickcolor=AX), **common),
    yaxis3=dict(domain=ydom(566, 766), anchor="x3", range=[0.95, 1.25], dtick=0.05, tick0=0.95,
                tickformat=".2f", ticklen=9, minor=dict(ticks="inside", ticklen=5, dtick=0.01, tickcolor=AX),
                **common),
)

ann = [
    dict(text=TITLE, x=326 / W, y=1 - 12 / H, font=dict(size=18, family="DejaVu Sans, sans-serif", color=TXT)),
    dict(text="Wavelength (\u03bcm)", x=326 / W, y=1 - 254 / H, font=dict(size=13)),
    dict(text="\u03bbF<sub>\u03bb</sub> (W m<sup>\u22122</sup>)", x=28 / W, y=1 - 124 / H, textangle=-90,
         font=dict(size=14)),
    dict(text="Inner Disk Radius (AU)", x=326 / W, y=1 - 527 / H, font=dict(size=13)),
    dict(text="Model Probability", x=38 / W, y=1 - 395 / H, textangle=-90, font=dict(size=13)),
    dict(text="z", x=326 / W, y=1 - 797 / H, font=dict(size=13)),
    dict(text="\u03b2", x=30 / W, y=1 - 666 / H, textangle=-90, font=dict(size=14)),
]
for a in ann:
    a.update(xref="paper", yref="paper", showarrow=False, xanchor="center", yanchor="middle")
    fig.add_annotation(**a)

fig.write_html("out.html", config={"displayModeBar": False, "staticPlot": True},
               post_script="document.body.style.margin='0';document.body.style.padding='0';")
